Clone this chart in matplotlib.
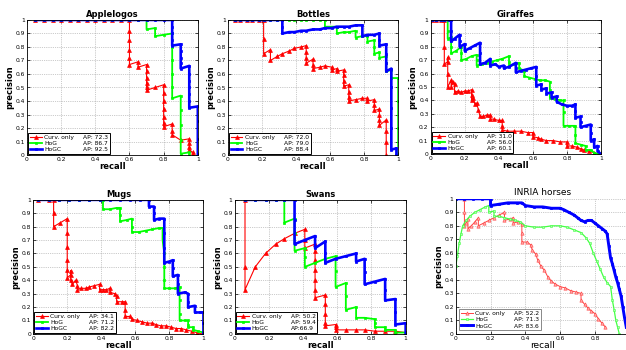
import numpy as np
import matplotlib
matplotlib.use("Agg")
import matplotlib.pyplot as plt
from matplotlib.lines import Line2D
from matplotlib.ticker import FormatStrFormatter

# (recall, precision) points
apple_curv = [(0.05, 1), (0.10, 1), (0.15, 1), (0.20, 1), (0.25, 1), (0.30, 1), (0.35, 1), (0.40, 1),
              (0.45, 1), (0.50, 1), (0.55, 1), (0.60, 1), (0.60, 0.92), (0.60, 0.85), (0.60, 0.78),
              (0.60, 0.72), (0.60, 0.67), (0.65, 0.69), (0.65, 0.65), (0.70, 0.67), (0.70, 0.62),
              (0.70, 0.57), (0.70, 0.53), (0.70, 0.50), (0.70, 0.48), (0.75, 0.50), (0.80, 0.52),
              (0.80, 0.46), (0.80, 0.40), (0.80, 0.34), (0.80, 0.28), (0.80, 0.24), (0.80, 0.21),
              (0.85, 0.23), (0.85, 0.18), (0.85, 0.15), (0.90, 0.11), (0.95, 0.12), (0.95, 0.09),
              (0.95, 0.06), (0.95, 0.04), (0.97, 0.02), (0.97, 0.0)]
apple_hog = [(0.05, 1), (0.10, 1), (0.15, 1), (0.20, 1), (0.25, 1), (0.30, 1), (0.35, 1), (0.40, 1),
             (0.45, 1), (0.50, 1), (0.55, 1), (0.60, 1), (0.65, 1), (0.70, 1), (0.70, 0.93),
             (0.75, 0.94), (0.75, 0.88), (0.80, 0.89), (0.85, 0.90), (0.85, 0.80), (0.85, 0.70),
             (0.85, 0.60), (0.85, 0.50), (0.85, 0.42), (0.90, 0.44), (0.90, 0.33), (0.90, 0.22),
             (0.90, 0.11), (0.90, 0.01), (0.95, 0.02), (0.95, 0.0)]
apple_hogc = [(0.05, 1), (0.10, 1), (0.15, 1), (0.20, 1), (0.25, 1), (0.30, 1), (0.35, 1), (0.40, 1),
              (0.45, 1), (0.50, 1), (0.55, 1), (0.60, 1), (0.65, 1), (0.70, 1), (0.75, 1), (0.80, 1),
              (0.85, 1), (0.85, 0.95), (0.85, 0.90), (0.85, 0.85), (0.85, 0.81), (0.90, 0.82),
              (0.90, 0.77), (0.90, 0.72), (0.90, 0.68), (0.90, 0.64), (0.95, 0.66), (0.95, 0.60),
              (0.95, 0.55), (0.95, 0.50), (0.95, 0.45), (0.95, 0.40), (0.95, 0.35), (1.0, 0.36),
              (1.0, 0.25), (1.0, 0.12), (1.0, 0.0)]

bottles_curv = [(0.04, 1), (0.07, 1), (0.11, 1), (0.14, 1), (0.18, 1), (0.21, 1), (0.21, 0.86),
                (0.21, 0.75), (0.25, 0.78), (0.25, 0.70), (0.29, 0.73), (0.32, 0.75), (0.36, 0.77),
                (0.39, 0.79), (0.43, 0.80), (0.46, 0.81), (0.46, 0.76), (0.46, 0.72), (0.46, 0.68),
                (0.50, 0.71), (0.50, 0.67), (0.50, 0.64), (0.54, 0.65), (0.57, 0.66), (0.61, 0.65),
                (0.61, 0.63), (0.64, 0.64), (0.64, 0.62), (0.68, 0.63), (0.68, 0.59), (0.68, 0.55),
                (0.68, 0.51), (0.71, 0.52), (0.71, 0.47), (0.71, 0.43), (0.71, 0.40), (0.75, 0.41),
                (0.79, 0.42), (0.82, 0.42), (0.82, 0.40), (0.86, 0.41), (0.86, 0.37), (0.86, 0.33),
                (0.89, 0.34), (0.89, 0.30), (0.89, 0.26), (0.89, 0.22), (0.93, 0.26), (0.93, 0.18),
                (0.93, 0.10), (0.93, 0.0)]
bottles_hog = [(0.04, 1), (0.07, 1), (0.11, 1), (0.14, 1), (0.18, 1), (0.21, 1), (0.25, 1), (0.29, 1),
               (0.32, 1), (0.36, 1), (0.39, 1), (0.43, 1), (0.46, 1), (0.50, 1), (0.54, 1), (0.57, 1),
               (0.57, 0.95), (0.61, 0.95), (0.64, 0.95), (0.64, 0.90), (0.68, 0.91), (0.71, 0.91),
               (0.75, 0.92), (0.75, 0.87), (0.79, 0.88), (0.82, 0.88), (0.82, 0.84), (0.86, 0.85),
               (0.86, 0.80), (0.86, 0.75), (0.89, 0.76), (0.89, 0.72), (0.93, 0.73), (0.93, 0.68),
               (0.93, 0.62), (0.96, 0.63), (0.96, 0.57), (1.0, 0.57), (1.0, 0.40), (1.0, 0.20),
               (1.0, 0.0)]
bottles_hogc = [(0.04, 1), (0.07, 1), (0.11, 1), (0.14, 1), (0.18, 1), (0.21, 1), (0.25, 1), (0.29, 1),
                (0.32, 1), (0.32, 0.95), (0.32, 0.90), (0.36, 0.91), (0.39, 0.91), (0.43, 0.92),
                (0.46, 0.92), (0.50, 0.93), (0.54, 0.93), (0.57, 0.94), (0.61, 0.94), (0.64, 0.95),
                (0.68, 0.95), (0.71, 0.95), (0.75, 0.96), (0.79, 0.96), (0.79, 0.88), (0.82, 0.89),
                (0.86, 0.89), (0.89, 0.90), (0.89, 0.85), (0.89, 0.81), (0.93, 0.82), (0.93, 0.75),
                (0.93, 0.68), (0.93, 0.62), (0.96, 0.64), (0.96, 0.50), (0.96, 0.35), (0.96, 0.20),
                (0.96, 0.04), (0.99, 0.05), (0.99, 0.0)]

giraffes_curv = [(0.01, 1), (0.03, 1), (0.06, 1), (0.08, 1), (0.08, 0.80), (0.08, 0.67), (0.10, 0.69),
                 (0.10, 0.72), (0.10, 0.60), (0.10, 0.50), (0.12, 0.55), (0.12, 0.50), (0.13, 0.54),
                 (0.14, 0.52), (0.14, 0.46), (0.16, 0.47), (0.18, 0.46), (0.20, 0.47), (0.22, 0.47),
                 (0.24, 0.48), (0.24, 0.44), (0.24, 0.40), (0.25, 0.42), (0.26, 0.37), (0.27, 0.38),
                 (0.28, 0.33), (0.29, 0.28), (0.31, 0.28), (0.33, 0.29), (0.35, 0.29), (0.35, 0.26),
                 (0.37, 0.26), (0.40, 0.25), (0.42, 0.25), (0.42, 0.21), (0.42, 0.18), (0.45, 0.17),
                 (0.49, 0.17), (0.53, 0.17), (0.57, 0.16), (0.60, 0.16), (0.60, 0.13), (0.63, 0.12),
                 (0.65, 0.11), (0.68, 0.10), (0.72, 0.10), (0.76, 0.09), (0.80, 0.09), (0.80, 0.06),
                 (0.83, 0.06), (0.86, 0.05), (0.88, 0.04), (0.90, 0.03), (0.93, 0.02), (0.96, 0.01),
                 (0.99, 0.0)]
giraffes_hog = [(0.01, 1), (0.03, 1), (0.06, 1), (0.08, 1), (0.10, 1), (0.10, 0.92), (0.10, 0.86),
                (0.12, 0.87), (0.12, 0.80), (0.12, 0.75), (0.15, 0.77), (0.18, 0.80), (0.18, 0.75),
                (0.18, 0.70), (0.21, 0.71), (0.24, 0.73), (0.27, 0.74), (0.27, 0.70), (0.27, 0.66),
                (0.30, 0.67), (0.33, 0.68), (0.36, 0.69), (0.39, 0.70), (0.42, 0.71), (0.46, 0.73),
                (0.46, 0.69), (0.46, 0.66), (0.49, 0.67), (0.52, 0.68), (0.52, 0.64), (0.55, 0.62),
                (0.55, 0.58), (0.58, 0.57), (0.61, 0.56), (0.64, 0.55), (0.67, 0.55), (0.70, 0.54),
                (0.70, 0.48), (0.70, 0.42), (0.73, 0.41), (0.76, 0.40), (0.78, 0.40), (0.78, 0.31),
                (0.78, 0.21), (0.81, 0.21), (0.84, 0.21), (0.85, 0.21), (0.85, 0.14), (0.85, 0.08),
                (0.88, 0.07), (0.91, 0.06), (0.91, 0.03), (0.94, 0.03), (0.96, 0.01), (0.98, 0.0)]
giraffes_hogc = [(0.01, 1), (0.03, 1), (0.06, 1), (0.08, 1), (0.11, 1), (0.12, 1), (0.12, 0.92),
                 (0.12, 0.84), (0.14, 0.86), (0.17, 0.89), (0.17, 0.84), (0.17, 0.80), (0.20, 0.82),
                 (0.20, 0.77), (0.23, 0.79), (0.26, 0.81), (0.29, 0.83), (0.29, 0.75), (0.29, 0.67),
                 (0.32, 0.68), (0.35, 0.71), (0.35, 0.66), (0.38, 0.67), (0.40, 0.65), (0.43, 0.66),
                 (0.43, 0.64), (0.46, 0.65), (0.50, 0.68), (0.50, 0.64), (0.50, 0.61), (0.53, 0.62),
                 (0.56, 0.63), (0.59, 0.64), (0.62, 0.65), (0.62, 0.58), (0.62, 0.51), (0.65, 0.52),
                 (0.65, 0.48), (0.68, 0.49), (0.68, 0.45), (0.71, 0.46), (0.71, 0.42), (0.74, 0.43),
                 (0.74, 0.39), (0.77, 0.37), (0.80, 0.36), (0.83, 0.36), (0.85, 0.37), (0.85, 0.32),
                 (0.85, 0.27), (0.88, 0.28), (0.88, 0.24), (0.88, 0.20), (0.91, 0.21), (0.94, 0.22),
                 (0.94, 0.16), (0.94, 0.10), (0.96, 0.11), (0.96, 0.05), (0.98, 0.06), (0.98, 0.02),
                 (1.0, 0.0)]

mugs_curv = [(0.03, 1), (0.09, 1), (0.12, 1), (0.12, 0.90), (0.12, 0.80), (0.16, 0.83), (0.20, 0.86),
             (0.20, 0.75), (0.20, 0.65), (0.20, 0.55), (0.20, 0.48), (0.20, 0.42), (0.22, 0.44),
             (0.22, 0.47), (0.22, 0.40), (0.23, 0.37), (0.25, 0.40), (0.26, 0.36), (0.26, 0.33),
             (0.28, 0.34), (0.31, 0.34), (0.33, 0.35), (0.36, 0.36), (0.39, 0.37), (0.39, 0.33),
             (0.41, 0.33), (0.43, 0.33), (0.45, 0.34), (0.45, 0.31), (0.48, 0.30), (0.49, 0.28),
             (0.49, 0.24), (0.52, 0.24), (0.54, 0.24), (0.54, 0.18), (0.54, 0.13), (0.57, 0.13),
             (0.58, 0.11), (0.61, 0.10), (0.64, 0.09), (0.67, 0.08), (0.70, 0.08), (0.72, 0.07),
             (0.75, 0.06), (0.78, 0.06), (0.81, 0.05), (0.84, 0.04), (0.87, 0.04), (0.90, 0.03),
             (0.93, 0.02), (0.96, 0.01), (0.99, 0.0)]
mugs_hog = [(0.03, 1), (0.09, 1), (0.15, 1), (0.21, 1), (0.27, 1), (0.33, 1), (0.39, 1), (0.41, 1),
            (0.41, 0.93), (0.45, 0.93), (0.49, 0.94), (0.51, 0.94), (0.51, 0.89), (0.51, 0.84),
            (0.55, 0.85), (0.58, 0.86), (0.58, 0.80), (0.58, 0.76), (0.62, 0.76), (0.66, 0.77),
            (0.70, 0.78), (0.74, 0.79), (0.76, 0.79), (0.76, 0.70), (0.77, 0.60), (0.77, 0.50),
            (0.77, 0.40), (0.77, 0.34), (0.80, 0.34), (0.83, 0.34), (0.86, 0.35), (0.86, 0.25),
            (0.86, 0.15), (0.86, 0.10), (0.89, 0.10), (0.91, 0.10), (0.91, 0.07), (0.91, 0.05),
            (0.94, 0.05), (0.94, 0.03), (0.97, 0.02), (1.0, 0.01), (1.0, 0.0)]
mugs_hogc = [(0.03, 1), (0.09, 1), (0.15, 1), (0.21, 1), (0.27, 1), (0.33, 1), (0.39, 1), (0.45, 1),
             (0.51, 1), (0.57, 1), (0.63, 1), (0.68, 1), (0.68, 0.95), (0.71, 0.95), (0.71, 0.90),
             (0.71, 0.85), (0.74, 0.86), (0.77, 0.86), (0.77, 0.75), (0.77, 0.64), (0.77, 0.53),
             (0.80, 0.54), (0.82, 0.55), (0.82, 0.49), (0.82, 0.43), (0.85, 0.44), (0.85, 0.37),
             (0.85, 0.30), (0.89, 0.31), (0.91, 0.30), (0.91, 0.24), (0.91, 0.20), (0.95, 0.21),
             (0.95, 0.16), (0.98, 0.16), (1.0, 0.16), (1.0, 0.08), (1.0, 0.0)]

swans_curv = [(0.06, 1.0), (0.06, 0.5), (0.06, 0.33), (0.12, 0.50), (0.18, 0.60), (0.24, 0.67),
              (0.29, 0.71), (0.35, 0.75), (0.41, 0.78), (0.41, 0.70), (0.41, 0.64), (0.47, 0.67),
              (0.47, 0.62), (0.47, 0.55), (0.47, 0.48), (0.47, 0.40), (0.47, 0.33), (0.47, 0.27),
              (0.53, 0.29), (0.53, 0.22), (0.53, 0.15), (0.53, 0.08), (0.53, 0.06), (0.59, 0.07),
              (0.59, 0.05), (0.59, 0.03), (0.65, 0.03), (0.71, 0.03), (0.76, 0.03), (0.82, 0.02),
              (0.88, 0.02), (0.94, 0.02), (1.0, 0.01), (1.0, 0.0)]
swans_hog = [(0.06, 1), (0.12, 1), (0.18, 1), (0.24, 1), (0.29, 1), (0.29, 0.83), (0.35, 0.86),
             (0.35, 0.75), (0.35, 0.62), (0.41, 0.64), (0.41, 0.57), (0.41, 0.50), (0.47, 0.53),
             (0.53, 0.56), (0.59, 0.58), (0.59, 0.47), (0.59, 0.35), (0.65, 0.38), (0.65, 0.28),
             (0.65, 0.18), (0.71, 0.20), (0.71, 0.12), (0.76, 0.12), (0.82, 0.11), (0.82, 0.08),
             (0.82, 0.05), (0.88, 0.05), (0.88, 0.03), (0.94, 0.03), (0.94, 0.01), (1.0, 0.01),
             (1.0, 0.0)]
swans_hogc = [(0.06, 1), (0.12, 1), (0.18, 1), (0.24, 1), (0.29, 1), (0.35, 1), (0.35, 0.85),
              (0.35, 0.67), (0.41, 0.70), (0.47, 0.73), (0.47, 0.64), (0.53, 0.69), (0.53, 0.60),
              (0.53, 0.53), (0.59, 0.56), (0.65, 0.58), (0.71, 0.60), (0.71, 0.54), (0.76, 0.56),
              (0.76, 0.46), (0.76, 0.37), (0.82, 0.39), (0.88, 0.41), (0.88, 0.33), (0.88, 0.25),
              (0.94, 0.26), (0.94, 0.16), (0.94, 0.07), (1.0, 0.08), (1.0, 0.0)]

inria_curv = [(0.05, 1.0), (0.05, 0.9), (0.05, 0.8), (0.06, 0.82), (0.07, 0.85), (0.07, 0.78),
              (0.09, 0.80), (0.11, 0.83), (0.13, 0.86), (0.13, 0.80), (0.16, 0.82), (0.19, 0.84),
              (0.22, 0.86), (0.25, 0.88), (0.28, 0.90), (0.28, 0.84), (0.31, 0.85), (0.33, 0.86),
              (0.33, 0.82), (0.36, 0.83), (0.38, 0.81), (0.38, 0.75), (0.38, 0.68), (0.41, 0.68),
              (0.43, 0.66), (0.44, 0.62), (0.46, 0.59), (0.47, 0.55), (0.49, 0.50), (0.51, 0.47),
              (0.53, 0.42), (0.55, 0.39), (0.57, 0.37), (0.60, 0.35), (0.63, 0.34), (0.66, 0.32),
              (0.69, 0.31), (0.72, 0.30), (0.72, 0.25), (0.74, 0.22), (0.76, 0.19), (0.78, 0.17),
              (0.80, 0.15), (0.82, 0.11), (0.84, 0.08), (0.86, 0.05)]
inria_hog = [(0.0, 1.0), (0.0, 0.5), (0.01, 0.58), (0.02, 0.67), (0.03, 0.74), (0.04, 0.80),
             (0.06, 0.84), (0.08, 0.87), (0.11, 0.90), (0.14, 0.92), (0.17, 0.94), (0.19, 0.95),
             (0.19, 0.90), (0.22, 0.91), (0.22, 0.87), (0.25, 0.87), (0.28, 0.86), (0.31, 0.85),
             (0.34, 0.84), (0.37, 0.83), (0.40, 0.80), (0.45, 0.79), (0.50, 0.79), (0.55, 0.80),
             (0.60, 0.80), (0.64, 0.79), (0.68, 0.77), (0.72, 0.75), (0.75, 0.71), (0.77, 0.67),
             (0.79, 0.60), (0.81, 0.54), (0.83, 0.48), (0.85, 0.42), (0.87, 0.38), (0.89, 0.35),
             (0.90, 0.25), (0.91, 0.18), (0.92, 0.10), (0.93, 0.05), (0.94, 0.0)]
inria_hogc = [(0.0, 1.0), (0.05, 1.0), (0.10, 1.0), (0.15, 1.0), (0.20, 1.0), (0.20, 0.95),
              (0.25, 0.96), (0.30, 0.97), (0.35, 0.97), (0.38, 0.97), (0.40, 0.95), (0.45, 0.94),
              (0.50, 0.94), (0.55, 0.93), (0.60, 0.93), (0.62, 0.92), (0.65, 0.90), (0.68, 0.88),
              (0.70, 0.86), (0.72, 0.84), (0.74, 0.83), (0.76, 0.84), (0.78, 0.84), (0.80, 0.82),
              (0.82, 0.80), (0.84, 0.78), (0.86, 0.76), (0.87, 0.74), (0.88, 0.65), (0.89, 0.56),
              (0.90, 0.52), (0.91, 0.47), (0.92, 0.42), (0.93, 0.38), (0.94, 0.33), (0.95, 0.28),
              (0.96, 0.20), (0.97, 0.12), (0.98, 0.05)]

titles = ["Applelogos", "Bottles", "Giraffes", "Mugs", "Swans", "INRIA horses"]
curves = [(apple_curv, apple_hog, apple_hogc),
          (bottles_curv, bottles_hog, bottles_hogc),
          (giraffes_curv, giraffes_hog, giraffes_hogc),
          (mugs_curv, mugs_hog, mugs_hogc),
          (swans_curv, swans_hog, swans_hogc),
          (inria_curv, inria_hog, inria_hogc)]
ap_labels = [["AP: 72.3", "AP: 86.7", "AP: 92.5"],
             ["AP: 72.0", "AP: 79.0", "AP: 88.4"],
             ["AP: 31.0", "AP: 56.0", "AP: 60.1"],
             ["AP: 34.1", "AP: 71.2", "AP: 82.2"],
             ["AP: 50.2", "AP: 59.4", "AP:66.9"],
             ["AP: 52.2", "AP: 71.3", "AP: 83.6"]]
method_names = ["Curv. only", "HoG", "HoGC"]

# axes boxes in figure fractions
boxes = [[0.043, 0.557, 0.273, 0.386],
         [0.364, 0.557, 0.272, 0.386],
         [0.688, 0.560, 0.272, 0.383],
         [0.053, 0.046, 0.272, 0.383],
         [0.375, 0.046, 0.273, 0.383],
         [0.728, 0.046, 0.278, 0.386]]

styles = [dict(color="#ff0000", marker="^", lw=0.8, ms=2.8, mew=0.5),
          dict(color="#00ff00", marker="s", lw=1.3, ms=2.0, mew=0.5),
          dict(color="#0000ff", marker="s", lw=1.9, ms=2.0, mew=0.5)]
inria_styles = [dict(color="#ff4040", marker="^", lw=0.7, ms=2.4, mew=0.4, mfc="#ffaaaa"),
                dict(color="#44ff44", marker="s", lw=0.9, ms=1.8, mew=0.4, mfc="#aaffaa"),
                dict(color="#0000ff", marker="s", lw=2.1, ms=2.0, mew=0.5)]

fig = plt.figure(figsize=(6.26, 3.5), dpi=100)

for i, (title, box) in enumerate(zip(titles, boxes)):
    ax = fig.add_axes(box)
    inria = (i == 5)
    sty = inria_styles if inria else styles
    handles = []
    for pts, st in zip(curves[i], sty):
        r, p = np.array(pts, dtype=float).T
        h, = ax.plot(r, p, **st)
        handles.append(h)

    ax.set_xlim(0, 1)
    ax.set_ylim(0, 1)
    ax.set_xticks(np.arange(0, 0.81 if inria else 1.01, 0.2))
    ax.set_yticks(np.arange(0, 1.01, 0.1))
    ax.xaxis.set_major_formatter(FormatStrFormatter("%g"))
    ax.yaxis.set_major_formatter(FormatStrFormatter("%g"))
    ax.tick_params(labelsize=4.3, direction="in", length=2, width=0.5, pad=1.5,
                   top=not inria, right=not inria)
    ax.grid(True, linestyle=":", color="#999999", lw=0.5)
    for s in ax.spines.values():
        s.set_linewidth(0.6)
    if inria:
        ax.spines["top"].set_visible(False)
        ax.spines["right"].set_visible(False)
        ax.set_title(title, fontsize=6.5, pad=3)
        ax.set_xlabel("recall", fontsize=6.5, labelpad=0)
    else:
        ax.set_title(title, fontsize=6, fontweight="bold", pad=2)
        ax.set_xlabel("recall", fontsize=6, fontweight="bold", labelpad=0)
    ax.set_ylabel("precision", fontsize=6, fontweight="bold", labelpad=1)

    blank = [Line2D([], [], linestyle="none")] * 3
    leg = ax.legend(handles + blank, method_names + ap_labels[i], ncol=2,
                    loc="lower left", fontsize=4.3, frameon=True, fancybox=False,
                    borderaxespad=0.6 if inria else 0.15, handlelength=2.0, handletextpad=0.4,
                    columnspacing=-0.9, labelspacing=0.15, borderpad=0.3)
    leg.get_frame().set_edgecolor("black" if not inria else "#888888")
    leg.get_frame().set_linewidth(0.7)
    leg.get_frame().set_alpha(1)

fig.savefig("out.png", dpi=100)
